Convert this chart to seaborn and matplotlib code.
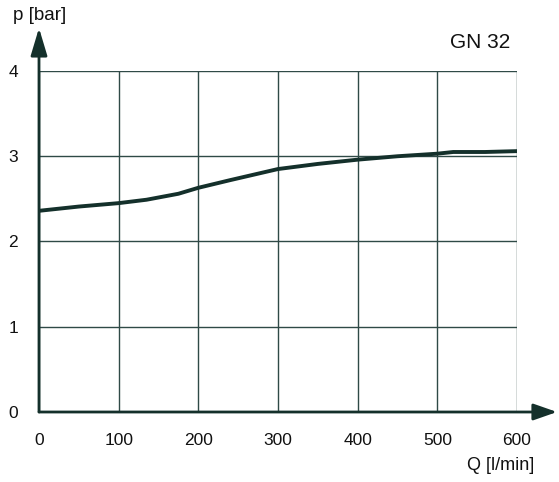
import matplotlib
matplotlib.use("Agg")
import matplotlib.pyplot as plt
import seaborn as sns
import pandas as pd

# data
flow = [0, 50, 100, 135, 175, 200, 240, 300, 350, 400, 450, 500, 520, 560, 600]
pressure = [2.36, 2.41, 2.45, 2.49, 2.56, 2.63, 2.72, 2.85, 2.91, 2.96, 3.00, 3.03, 3.05, 3.05, 3.06]
x_ticks = [0, 100, 200, 300, 400, 500, 600]
y_ticks = [0, 1, 2, 3, 4]
x_label = "Q [l/min]"
y_label = "p [bar]"
title = "GN 32"

sns.set_theme(style="white")
plt.rcParams["font.family"] = ["Liberation Sans", "DejaVu Sans"]

W, H = 559, 482
fig = plt.figure(figsize=(W / 100, H / 100), dpi=100)
ax = fig.add_axes([39 / W, 1 - 412 / H, (517 - 39) / W, (412 - 71) / H])

grid_c = "#2f4a47"
line_c = "#14302b"

df = pd.DataFrame({"Q": flow, "p": pressure})
sns.lineplot(data=df, x="Q", y="p", ax=ax, color=line_c, linewidth=2.8, zorder=5)

ax.set_xlim(0, 600)
ax.set_ylim(0, 4)
ax.set_xticks(x_ticks)
ax.set_yticks(y_ticks)
ax.set_xticklabels([str(v) for v in x_ticks])
ax.set_yticklabels([str(v) for v in y_ticks])
ax.tick_params(axis="both", length=0, labelsize=12.5, colors="#111111")
ax.tick_params(axis="x", pad=15)
ax.tick_params(axis="y", pad=18.5)
for lab in ax.get_yticklabels():
    lab.set_horizontalalignment("center")
ax.grid(True, color=grid_c, linewidth=1.0)
ax.set_axisbelow(True)
for s in ["top", "right", "left", "bottom"]:
    ax.spines[s].set_visible(False)
ax.set_xlabel("")
ax.set_ylabel("")

# axes arrows
ax.annotate("", xy=(557 / W, 1 - 412 / H), xytext=(39 / W, 1 - 412 / H),
            xycoords="figure fraction", textcoords="figure fraction",
            arrowprops=dict(arrowstyle="-|>,head_length=1.2,head_width=0.42",
                            color="#14302b", lw=2, shrinkA=0, shrinkB=0))
ax.annotate("", xy=(39 / W, 1 - 28 / H), xytext=(39 / W, 1 - 412 / H),
            xycoords="figure fraction", textcoords="figure fraction",
            arrowprops=dict(arrowstyle="-|>,head_length=1.4,head_width=0.42",
                            color="#14302b", lw=2, shrinkA=0, shrinkB=0))

fig.text(13 / W, 1 - 15 / H, y_label, fontsize=13.5, ha="left", va="center", color="#111111")
fig.text(534 / W, 1 - 465 / H, x_label, fontsize=13, ha="right", va="center", color="#111111")
fig.text(510 / W, 1 - 42 / H, title, fontsize=15, ha="right", va="center", color="#111111")

fig.savefig("out.png", dpi=100, facecolor="white")
